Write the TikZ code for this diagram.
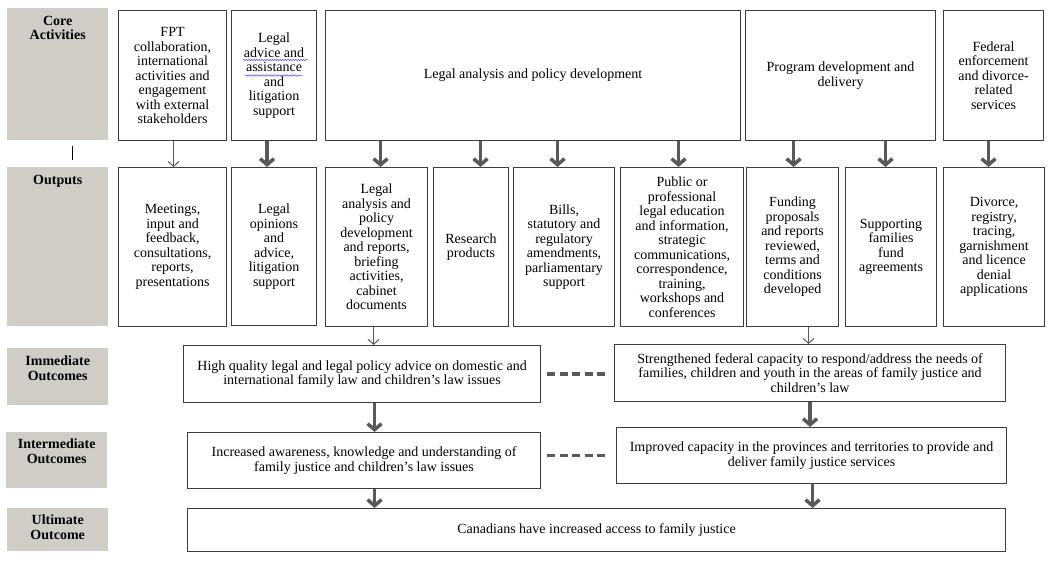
\documentclass[tikz,border=0pt]{standalone}
\usepackage{fontspec}
\setmainfont{Liberation Serif}
\usetikzlibrary{arrows.meta,decorations.pathmorphing}
\definecolor{lblgray}{RGB}{208,205,198}
\definecolor{edgegray}{RGB}{60,60,60}
\definecolor{arrgray}{RGB}{89,89,89}
\begin{document}
\begin{tikzpicture}[x=1pt,y=-1pt,
 box/.style={draw=edgegray, line width=1.1pt, fill=white, inner sep=0pt, anchor=north west, align=center, font=\fontsize{14}{14.5}\selectfont},
 lbl/.style={fill=lblgray, inner sep=0pt, anchor=north west},
 lbltext/.style={anchor=north, inner sep=0pt, align=center, font=\fontsize{14}{14.5}\selectfont\bfseries},
 thickarrow/.style={draw=arrgray, line width=3.5pt, -{Straight Barb[length=6pt,width=14pt]}},
 thinarrow/.style={draw=arrgray, line width=1pt, -{Straight Barb[length=5pt,width=11pt]}},
 dashline/.style={draw=arrgray, line width=3.5pt, dash pattern=on 8pt off 4.5pt},
 squiggle/.style={draw=blue!70!white, line width=0.5pt, decorate, decoration={snake, amplitude=0.7pt, segment length=2.6pt}},
]
\useasboundingbox (0,0) rectangle (1054,569);
\fill[white] (0,0) rectangle (1054,569);

% row labels
\node[lbl, minimum width=101pt, minimum height=132pt] (lCore) at (7,8) {};
\node[lbl, minimum width=101pt, minimum height=159pt] (lOut) at (7,167) {};
\node[lbl, minimum width=101pt, minimum height=57pt] (lImm) at (7,348) {};
\node[lbl, minimum width=101pt, minimum height=56pt] (lInt) at (6,432) {};
\node[lbl, minimum width=101pt, minimum height=43pt] (lUlt) at (7,508) {};
\node[lbltext] (tCore) at ([yshift=-8pt]lCore.north) {Core\\Activities};
\node[lbltext] (tOut) at ([yshift=-8pt]lOut.north) {Outputs};
\node[lbltext] (tImm) at ([yshift=-8pt]lImm.north) {Immediate\\Outcomes};
\node[lbltext] (tInt) at ([yshift=-7pt]lInt.north) {Intermediate\\Outcomes};
\node[lbltext] (tUlt) at ([yshift=-7pt]lUlt.north) {Ultimate\\Outcome};
\draw[line width=1pt] (72,146) -- (72,160);

% core activities
\node[box, minimum width=108pt, minimum height=130pt] (a1) at (118,10) {FPT\\collaboration,\\international\\activities and\\engagement\\with external\\stakeholders};
\node[box, minimum width=85pt, minimum height=130pt] (a2) at (231,10) {Legal\\advice and\\assistance\\and\\litigation\\support};
\node[box, minimum width=415pt, minimum height=130pt] (a3) at (325,10) {Legal analysis and policy development};
\node[box, minimum width=190pt, minimum height=130pt] (a4) at (745,10) {Program development and\\delivery};
\node[box, minimum width=100pt, minimum height=130pt] (a5) at (943,10) {Federal\\enforcement\\and divorce-\\related\\services};
\draw[squiggle] (243,60) -- (308,60);
\draw[squiggle] (245,75.5) -- (302,75.5);

% outputs
\node[box, minimum width=108pt, minimum height=159pt] (o1) at (118,167) {Meetings,\\input and\\feedback,\\consultations,\\reports,\\presentations};
\node[box, minimum width=85pt, minimum height=158pt] (o2) at (231,167) {Legal\\opinions\\and\\advice,\\litigation\\support};
\node[box, minimum width=102pt, minimum height=159pt] (o3) at (325,167) {Legal\\analysis and\\policy\\development\\and reports,\\briefing\\activities,\\cabinet\\documents};
\node[box, minimum width=75pt, minimum height=159pt] (o4) at (433,167) {Research\\products};
\node[box, minimum width=101pt, minimum height=159pt] (o5) at (513,167) {Bills,\\statutory and\\regulatory\\amendments,\\parliamentary\\support};
\node[box, minimum width=123pt, minimum height=159pt] (o6) at (620,167) {Public or\\professional\\legal education\\and information,\\strategic\\communications,\\correspondence,\\training,\\workshops and\\conferences};
\node[box, minimum width=92pt, minimum height=159pt] (o7) at (746,167) {Funding\\proposals\\and reports\\reviewed,\\terms and\\conditions\\developed};
\node[box, minimum width=91pt, minimum height=159pt] (o8) at (845,167) {Supporting\\families\\fund\\agreements};
\node[box, minimum width=101pt, minimum height=159pt] (o9) at (943,167) {Divorce,\\registry,\\tracing,\\garnishment\\and licence\\denial\\applications};

% outcomes
\node[box, minimum width=357pt, minimum height=57pt] (i1) at (183,345) {High quality legal and legal policy advice on domestic and\\international family law and children’s law issues};
\node[box, minimum width=391pt, minimum height=57pt] (i2) at (614,344) {Strengthened federal capacity to respond/address the needs of\\families, children and youth in the areas of family justice and\\children’s law};
\node[box, minimum width=353pt, minimum height=56pt] (m1) at (187,432) {Increased awareness, knowledge and understanding of\\family justice and children’s law issues};
\node[box, minimum width=390pt, minimum height=56pt] (m2) at (616,427) {Improved capacity in the provinces and territories to provide and\\deliver family justice services};
\node[box, minimum width=818pt, minimum height=43pt] (u) at (187,508) {Canadians have increased access to family justice};

% arrows activities -> outputs
\draw[thinarrow] ([xshift=1pt]o1.north |- a1.south) -- ([xshift=1pt]o1.north);
\draw[thickarrow] ([xshift=-7pt]o2.north |- a2.south) -- ([xshift=-7pt]o2.north);
\draw[thickarrow] ([xshift=4pt]o3.north |- a3.south) -- ([xshift=4pt]o3.north);
\draw[thickarrow] ([xshift=9.5pt]o4.north |- a3.south) -- ([xshift=9.5pt]o4.north);
\draw[thickarrow] ([xshift=-6.5pt]o5.north |- a3.south) -- ([xshift=-6.5pt]o5.north);
\draw[thickarrow] ([xshift=-3.5pt]o6.north |- a3.south) -- ([xshift=-3.5pt]o6.north);
\draw[thickarrow] ([xshift=1pt]o7.north |- a4.south) -- ([xshift=1pt]o7.north);
\draw[thickarrow] ([xshift=-5.5pt]o8.north |- a4.south) -- ([xshift=-5.5pt]o8.north);
\draw[thickarrow] ([xshift=-5.5pt]o9.north |- a5.south) -- ([xshift=-5.5pt]o9.north);

% outputs -> immediate
\draw[thinarrow] ([xshift=-3pt]o3.south) -- ([xshift=-3pt]o3.south |- i1.north);
\draw[thinarrow] ([xshift=16pt]o7.south) -- ([xshift=16pt]o7.south |- i2.north);

% outcome chain
\draw[thickarrow] ([xshift=12.5pt]i1.south) -- ([xshift=12.5pt]i1.south |- m1.north);
\draw[thickarrow] ([xshift=10.5pt]m1.south) -- ([xshift=10.5pt]m1.south |- u.north);
\draw[thickarrow] (i2.south) -- (i2.south |- m2.north);
\draw[thickarrow] ([xshift=1pt]m2.south) -- ([xshift=1pt]m2.south |- u.north);

% dashed links
\draw[dashline] ([xshift=6pt]i1.east) -- ([xshift=-7pt]i2.west |- i1.east);
\draw[dashline] ([xshift=6pt]m1.east |- m2.west) -- ([xshift=-9pt]m2.west);
\end{tikzpicture}
\end{document}
